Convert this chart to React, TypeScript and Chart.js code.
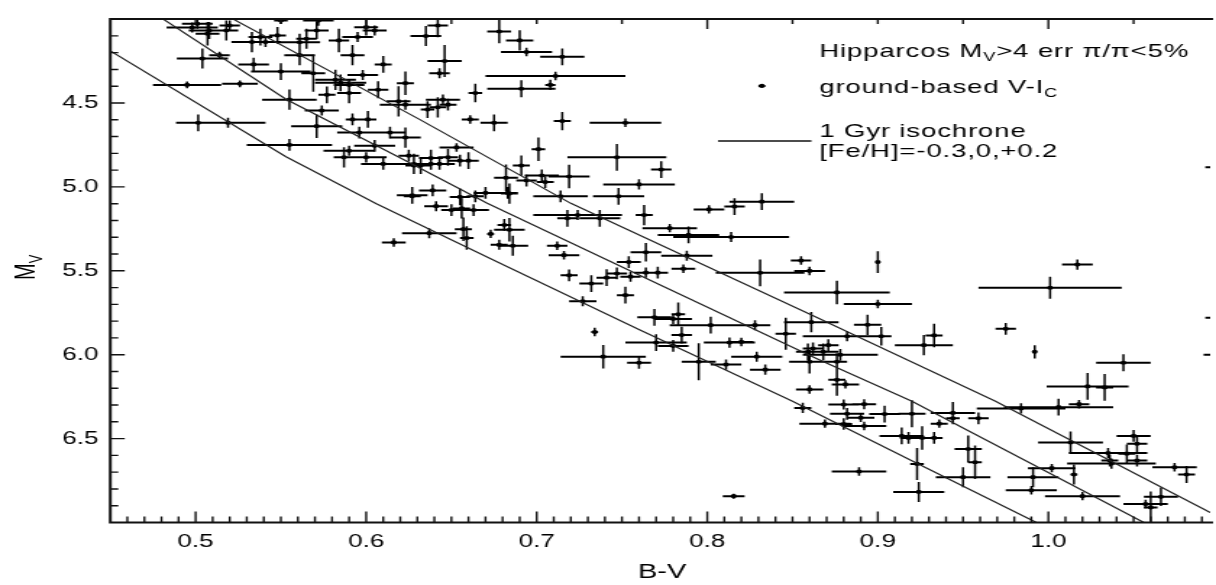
import React, { useEffect, useRef } from "react";
import { Chart, registerables } from "chart.js";

Chart.register(...registerables);

// The source figure is a raster that was stretched horizontally; we draw on a
// narrower canvas and let CSS stretch it to the same 1216 x 585 footprint.
const CANVAS_W = 840;
const CANVAS_H = 585;
const CSS_W = 1216;
const CSS_H = 585;

const X_MIN = 0.45;
const X_MAX = 1.0949;
const Y_MIN = 4.0;
const Y_MAX = 7.0;

const xTickValues = [0.5, 0.6, 0.7, 0.8, 0.9, 1.0];
const xTickLabels = ["0.5", "0.6", "0.7", "0.8", "0.9", "1.0"];
const yTickValues = [4.5, 5.0, 5.5, 6.0, 6.5];
const yTickLabels = ["4.5", "5.0", "5.5", "6.0", "6.5"];
const xAxisTitle = "B-V";
const xAxisTitleBV = 0.7735;

// Hipparcos stars: B-V colour, absolute magnitude and their errors
const starBV = [
  0.495, 0.526, 0.5015, 0.519, 0.555, 0.555, 0.504, 0.514, 0.534, 0.55,
  0.569, 0.571, 0.574, 0.577, 0.582, 0.585, 0.59, 0.59, 0.592, 0.584,
  0.595, 0.6, 0.605, 0.61, 0.598, 0.607, 0.592, 0.601, 0.596, 0.614,
  0.623, 0.605, 0.59, 0.587, 0.6, 0.61, 0.628, 0.623, 0.619, 0.627,
  0.533, 0.538, 0.541, 0.561, 0.565, 0.548, 0.561, 0.571, 0.572, 0.507,
  0.501, 0.508, 0.518, 0.498, 0.52, 0.642, 0.635, 0.678, 0.69, 0.694,
  0.715, 0.646, 0.643, 0.711, 0.691, 0.708, 0.664, 0.623, 0.645, 0.636,
  0.642, 0.648, 0.661, 0.675, 0.715, 0.752, 0.701, 0.653, 0.747, 0.773,
  0.76, 0.625, 0.628, 0.632, 0.638, 0.638, 0.643, 0.648, 0.655, 0.66,
  0.691, 0.682, 0.684, 0.694, 0.703, 0.705, 0.719, 0.714, 0.748, 0.627,
  0.639, 0.655, 0.67, 0.664, 0.683, 0.832, 0.832, 0.641, 0.65, 0.656,
  0.663, 0.657, 0.659, 0.637, 0.673, 0.681, 0.684, 0.686, 0.678, 0.712,
  0.716, 0.724, 0.718, 0.737, 0.763, 0.801, 0.778, 0.789, 0.814, 0.816,
  0.764, 0.788, 0.786, 0.831, 0.855, 0.86, 0.754, 0.719, 0.732, 0.741,
  0.747, 0.755, 0.764, 0.771, 0.752, 0.727, 0.734, 0.739, 0.76, 0.769,
  0.78, 0.783, 0.785, 0.77, 0.78, 0.795, 0.802, 0.813, 0.82, 0.811,
  0.829, 0.834, 0.846, 0.859, 0.828, 0.861, 0.876, 0.9, 0.9, 0.894,
  0.882, 0.902, 0.927, 0.933, 0.862, 0.868, 0.871, 0.878, 0.86, 0.876,
  0.876, 0.881, 0.86, 0.975, 0.992, 1.044, 1.023, 1.033, 1.017, 1.001,
  0.856, 0.88, 0.892, 0.882, 0.89, 0.904, 0.892, 0.869, 0.88, 0.92,
  0.944, 0.944, 0.936, 0.959, 0.984, 1.006, 1.018, 0.914, 0.918, 0.926,
  0.933, 0.953, 0.957, 0.923, 0.889, 0.95, 0.924, 1.013, 1.035, 1.036,
  1.046, 1.05, 1.052, 1.052, 1.037, 1.074, 1.081, 1.002, 1.015, 0.991,
  0.99, 1.02, 1.066, 1.057, 1.06, 0.8155, 0.6162, 1.1, 1.1, 1.101,
  0.55,
];
const starMV = [
  4.392, 4.386, 4.618, 4.618, 4.75, 4.48, 4.235, 4.215, 4.27, 4.313,
  4.323, 4.638, 4.545, 4.451, 4.362, 4.38, 4.392, 4.441, 4.215, 4.127,
  4.107, 4.048, 4.068, 4.27, 4.333, 4.421, 4.598, 4.598, 4.676, 4.676,
  4.706, 4.755, 4.785, 4.824, 4.824, 4.863, 4.863, 4.382, 4.49, 5.05,
  4.137, 4.107, 4.137, 4.215, 4.117, 4.097, 4.138, 4.068, 4.009, 4.087,
  4.028, 4.068, 4.068, 4.05, 4.038, 4.038, 4.101, 4.074, 4.127, 4.196,
  4.225, 4.25, 4.323, 4.339, 4.415, 4.392, 4.441, 4.51, 4.48, 4.539,
  4.526, 4.51, 4.598, 4.618, 4.608, 4.618, 4.775, 4.765, 4.824, 4.897,
  4.985, 4.814, 4.873, 4.873, 4.863, 4.828, 4.863, 4.824, 4.844, 4.844,
  4.873, 4.946, 5.04, 4.962, 4.932, 4.971, 4.938, 5.056, 5.056, 5.056,
  5.021, 5.06, 5.036, 5.056, 5.036, 4.398, 5.088, 5.115, 5.138, 5.128,
  5.138, 5.252, 5.305, 5.276, 5.28, 5.227, 5.256, 5.351, 5.345, 5.351,
  5.407, 5.168, 5.187, 5.187, 5.168, 5.134, 5.246, 5.286, 5.299, 5.117,
  5.39, 5.41, 5.488, 5.512, 5.439, 5.501, 5.448, 5.527, 5.576, 5.541,
  5.516, 5.535, 5.511, 5.511, 5.645, 5.682, 5.865, 6.012, 6.048, 5.777,
  5.787, 5.759, 5.883, 5.928, 5.948, 6.042, 5.824, 5.928, 5.924, 6.059,
  6.012, 6.089, 5.875, 5.983, 5.824, 5.806, 5.629, 5.698, 5.448, 5.822,
  5.89, 5.89, 5.943, 5.885, 5.963, 5.983, 5.943, 6.001, 6.042, 6.042,
  6.15, 6.177, 6.207, 5.846, 5.983, 6.048, 6.189, 6.195, 5.463, 5.601,
  6.317, 6.297, 6.295, 6.352, 6.376, 6.354, 6.425, 6.411, 6.413, 6.352,
  6.347, 6.379, 6.411, 6.379, 6.32, 6.313, 6.295, 6.484, 6.496, 6.496,
  6.496, 6.562, 6.641, 6.651, 6.696, 6.73, 6.818, 6.523, 6.586, 6.631,
  6.59, 6.484, 6.531, 6.631, 6.649, 6.671, 6.714, 6.676, 6.714, 6.73,
  6.808, 6.843, 6.847, 6.89, 6.91, 6.843, 5.331, 4.883, 5.78, 6.0,
  4.009,
];
const starBVErr = [
  0.02, 0.0105, 0.013, 0.022, 0.025, 0.016, 0.015, 0.006, 0.009, 0.0175,
  0.007, 0.015, 0.01, 0.005, 0.012, 0.015, 0.009, 0.007, 0.007, 0.006,
  0.009, 0.007, 0.007, 0.005, 0.009, 0.006, 0.004, 0.005, 0.013, 0.009,
  0.009, 0.012, 0.015, 0.006, 0.012, 0.013, 0.007, 0.005, 0.007, 0.009,
  0.012, 0.007, 0.009, 0.009, 0.006, 0.005, 0.012, 0.007, 0.009, 0.007,
  0.009, 0.012, 0.007, 0.015, 0.006, 0.006, 0.009, 0.007, 0.008, 0.015,
  0.013, 0.01, 0.006, 0.041, 0.02, 0.003, 0.004, 0.015, 0.01, 0.004,
  0.005, 0.005, 0.005, 0.008, 0.005, 0.021, 0.004, 0.01, 0.029, 0.006,
  0.021, 0.006, 0.005, 0.006, 0.006, 0.007, 0.009, 0.006, 0.007, 0.006,
  0.005, 0.007, 0.005, 0.006, 0.01, 0.005, 0.012, 0.016, 0.015, 0.005,
  0.008, 0.006, 0.007, 0.005, 0.006, 0.002, 0.019, 0.007, 0.006, 0.005,
  0.009, 0.005, 0.004, 0.016, 0.002, 0.004, 0.009, 0.009, 0.005, 0.006,
  0.009, 0.026, 0.006, 0.012, 0.005, 0.009, 0.016, 0.018, 0.034, 0.006,
  0.009, 0.015, 0.007, 0.026, 0.006, 0.009, 0.007, 0.005, 0.007, 0.006,
  0.006, 0.006, 0.007, 0.006, 0.005, 0.008, 0.002, 0.025, 0.007, 0.01,
  0.011, 0.004, 0.006, 0.018, 0.009, 0.01, 0.024, 0.015, 0.007, 0.009,
  0.015, 0.009, 0.006, 0.007, 0.009, 0.016, 0.031, 0.02, 0.001, 0.008,
  0.026, 0.005, 0.017, 0.005, 0.006, 0.009, 0.006, 0.022, 0.012, 0.006,
  0.005, 0.008, 0.008, 0.006, 0.001, 0.016, 0.024, 0.005, 0.009, 0.042,
  0.005, 0.009, 0.007, 0.01, 0.008, 0.009, 0.013, 0.015, 0.005, 0.008,
  0.013, 0.004, 0.005, 0.006, 0.026, 0.032, 0.006, 0.013, 0.005, 0.005,
  0.005, 0.008, 0.004, 0.004, 0.016, 0.016, 0.015, 0.019, 0.023, 0.005,
  0.005, 0.01, 0.006, 0.006, 0.026, 0.013, 0.005, 0.014, 0.002, 0.015,
  0.015, 0.022, 0.01, 0.013, 0.004, 0.0064, 0.007, 0.008, 0.008, 0.01,
  0.004,
];
const starMVErr = [
  0.02, 0.02, 0.05, 0.03, 0.035, 0.06, 0.06, 0.02, 0.04, 0.05,
  0.11, 0.07, 0.03, 0.05, 0.06, 0.05, 0.035, 0.06, 0.06, 0.07,
  0.03, 0.05, 0.03, 0.05, 0.03, 0.05, 0.035, 0.05, 0.035, 0.035,
  0.06, 0.035, 0.03, 0.06, 0.03, 0.035, 0.06, 0.07, 0.09, 0.05,
  0.06, 0.05, 0.03, 0.06, 0.06, 0.05, 0.05, 0.05, 0.03, 0.07,
  0.03, 0.05, 0.06, 0.03, 0.03, 0.07, 0.06, 0.07, 0.06, 0.025,
  0.05, 0.095, 0.03, 0.025, 0.05, 0.03, 0.055, 0.03, 0.03, 0.05,
  0.06, 0.035, 0.025, 0.05, 0.055, 0.025, 0.07, 0.025, 0.08, 0.05,
  0.03, 0.035, 0.05, 0.05, 0.035, 0.05, 0.035, 0.05, 0.035, 0.05,
  0.06, 0.08, 0.06, 0.035, 0.035, 0.035, 0.07, 0.035, 0.05, 0.035,
  0.035, 0.05, 0.035, 0.035, 0.035, 0.01, 0.05, 0.03, 0.035, 0.06,
  0.035, 0.07, 0.07, 0.03, 0.025, 0.035, 0.07, 0.06, 0.03, 0.025,
  0.025, 0.03, 0.05, 0.05, 0.06, 0.025, 0.025, 0.05, 0.03, 0.05,
  0.055, 0.03, 0.025, 0.08, 0.025, 0.025, 0.035, 0.035, 0.05, 0.05,
  0.035, 0.03, 0.03, 0.035, 0.05, 0.03, 0.025, 0.07, 0.035, 0.05,
  0.03, 0.07, 0.05, 0.05, 0.035, 0.11, 0.05, 0.03, 0.025, 0.03,
  0.03, 0.03, 0.095, 0.05, 0.03, 0.06, 0.07, 0.025, 0.065, 0.06,
  0.03, 0.055, 0.06, 0.07, 0.035, 0.05, 0.035, 0.035, 0.07, 0.05,
  0.095, 0.025, 0.025, 0.035, 0.04, 0.05, 0.08, 0.08, 0.03, 0.065,
  0.03, 0.03, 0.03, 0.035, 0.025, 0.05, 0.025, 0.025, 0.035, 0.08,
  0.065, 0.035, 0.025, 0.035, 0.03, 0.05, 0.025, 0.05, 0.035, 0.07,
  0.035, 0.08, 0.1, 0.095, 0.025, 0.06, 0.06, 0.065, 0.03, 0.035,
  0.055, 0.035, 0.05, 0.035, 0.03, 0.025, 0.05, 0.025, 0.06, 0.06,
  0.025, 0.025, 0.055, 0.025, 0.095, 0.015, 0.025, 0.005, 0.005, 0.005,
  0.02,
];

// 1 Gyr isochrones, [Fe/H] = -0.3, 0, +0.2
const isoPoorBV = [0.45, 0.553, 0.606, 0.677, 0.759, 0.85, 0.922, 0.993];
const isoPoorMV = [4.19, 4.82, 5.1, 5.447, 5.845, 6.278, 6.642, 7.0];
const isoSolarBV = [0.481, 0.553, 0.619, 0.671, 0.76, 0.864, 0.92, 1.056];
const isoSolarMV = [4.0, 4.478, 4.822, 5.098, 5.525, 6.022, 6.278, 7.0];
const isoRichBV = [0.522, 0.631, 0.72, 0.864, 0.969, 1.0949];
const isoRichMV = [4.0, 4.596, 5.098, 5.777, 6.278, 6.94];

const annotationLines = [
  "Hipparcos M", "V", ">4 err \u03c0/\u03c0<5%",
  "ground-based V-I", "C",
  "1 Gyr isochrone",
  "[Fe/H]=-0.3,0,+0.2",
];
// where the annotation block and the legend sample line sit, in data units
const annotationBV = 0.8657;
const legendLineBV = [0.8063, 0.8611];

const FONT = '"Liberation Sans", Arial, Helvetica, sans-serif';

const pairs = (xs: number[], ys: number[]) => xs.map((x, i) => ({ x, y: ys[i] }));

const decorPlugin = {
  id: "decor",
  beforeDatasetsDraw(chart: any) {
    const { ctx, chartArea: a, scales } = chart;
    const xs = scales.x;
    const ys = scales.y;
    ctx.save();
    ctx.beginPath();
    ctx.rect(a.left, a.top, a.right - a.left, a.bottom - a.top);
    ctx.clip();
    ctx.strokeStyle = "#000";
    // horizontal error bars
    ctx.lineWidth = 2;
    ctx.beginPath();
    for (let i = 0; i < starBV.length; i++) {
      const py = ys.getPixelForValue(starMV[i]);
      ctx.moveTo(xs.getPixelForValue(starBV[i] - starBVErr[i]), py);
      ctx.lineTo(xs.getPixelForValue(starBV[i] + starBVErr[i]), py);
    }
    ctx.stroke();
    // vertical error bars
    ctx.lineWidth = 1.5;
    ctx.beginPath();
    for (let i = 0; i < starBV.length; i++) {
      const px = xs.getPixelForValue(starBV[i]);
      ctx.moveTo(px, ys.getPixelForValue(starMV[i] - starMVErr[i]));
      ctx.lineTo(px, ys.getPixelForValue(starMV[i] + starMVErr[i]));
    }
    ctx.stroke();
    ctx.restore();
  },
  afterDraw(chart: any) {
    const { ctx, chartArea: a, scales } = chart;
    const xs = scales.x;
    const ys = scales.y;
    ctx.save();
    ctx.strokeStyle = "#111";
    // frame: left, bottom, top (right edge of the plot lies outside the figure)
    ctx.lineWidth = 2;
    ctx.beginPath();
    ctx.moveTo(a.right + 2, a.top);
    ctx.lineTo(a.left, a.top);
    ctx.lineTo(a.left, a.bottom);
    ctx.lineTo(a.right + 2, a.bottom);
    ctx.stroke();

    ctx.lineWidth = 1.4;
    ctx.beginPath();
    // bottom ticks every 0.01, long every 0.1
    for (let k = 46; k <= 109; k++) {
      const px = xs.getPixelForValue(k / 100);
      const len = k % 10 === 0 ? 11 : 6;
      ctx.moveTo(px, a.bottom);
      ctx.lineTo(px, a.bottom - len);
    }
    // top ticks every 0.05, long every 0.2
    for (let k = 10; k <= 21; k++) {
      const px = xs.getPixelForValue(k * 0.05);
      const len = k % 4 === 0 ? 10 : 5;
      ctx.moveTo(px, a.top);
      ctx.lineTo(px, a.top + len);
    }
    // left ticks every 0.1, long every 0.5
    for (let k = 41; k <= 69; k++) {
      const py = ys.getPixelForValue(k / 10);
      const len = k % 5 === 0 ? 10 : 5.5;
      ctx.moveTo(a.left, py);
      ctx.lineTo(a.left + len, py);
    }
    ctx.stroke();

    // legend sample line for the isochrones
    ctx.lineWidth = 1.3;
    ctx.beginPath();
    ctx.moveTo(xs.getPixelForValue(legendLineBV[0]), 141);
    ctx.lineTo(xs.getPixelForValue(legendLineBV[1]), 141);
    ctx.stroke();

    // annotation text
    ctx.fillStyle = "#000";
    ctx.textBaseline = "alphabetic";
    ctx.textAlign = "left";
    const big = `19px ${FONT}`;
    const small = `12.5px ${FONT}`;
    const x0 = xs.getPixelForValue(annotationBV);
    (ctx as any).letterSpacing = "0.6px";
    const drawRun = (parts: [string, boolean][], x: number, y: number) => {
      let cx = x;
      for (const [t, sub] of parts) {
        ctx.font = sub ? small : big;
        ctx.fillText(t, cx, sub ? y + 4 : y);
        cx += ctx.measureText(t).width;
      }
    };
    drawRun([[annotationLines[0], false], [annotationLines[1], true], [annotationLines[2], false]], x0, 57);
    drawRun([[annotationLines[3], false], [annotationLines[4], true]], x0, 93);
    drawRun([[annotationLines[5], false]], x0, 137);
    drawRun([[annotationLines[6], false]], x0, 157);
    (ctx as any).letterSpacing = "0px";

    // x-axis title
    ctx.font = `20px ${FONT}`;
    ctx.textAlign = "center";
    ctx.fillText(xAxisTitle, xs.getPixelForValue(xAxisTitleBV), 578);

    // y-axis title M_V (rotated)
    ctx.textAlign = "left";
    ctx.save();
    ctx.translate(24, 280);
    ctx.rotate(-Math.PI / 2);
    ctx.font = `20px ${FONT}`;
    ctx.fillText("M", 0, 0);
    const mw = ctx.measureText("M").width;
    ctx.font = `13px ${FONT}`;
    ctx.fillText("V", mw, 5);
    ctx.restore();

    ctx.restore();
  },
};

export default function App() {
  const ref = useRef<HTMLCanvasElement | null>(null);

  useEffect(() => {
    const canvas = ref.current;
    if (!canvas) return;
    const lineDs = (label: string, bv: number[], mv: number[]) => ({
      label,
      data: pairs(bv, mv),
      showLine: true,
      borderColor: "#222",
      borderWidth: 1.2,
      pointRadius: 0,
      tension: 0,
      fill: false,
    });
    const chart = new Chart(canvas, {
      type: "scatter",
      data: {
        datasets: [
          lineDs("[Fe/H]=-0.3", isoPoorBV, isoPoorMV),
          lineDs("[Fe/H]=0", isoSolarBV, isoSolarMV),
          lineDs("[Fe/H]=+0.2", isoRichBV, isoRichMV),
          {
            label: "Hipparcos stars",
            data: pairs(starBV, starMV),
            showLine: false,
            pointRadius: 2.1,
            pointBackgroundColor: "#000",
            pointBorderColor: "#000",
            pointBorderWidth: 0,
          },
        ],
      },
      options: {
        responsive: false,
        animation: false,
        events: [],
        layout: { padding: { top: 13.5, right: 0, bottom: 0, left: 0 } },
        plugins: {
          legend: { display: false },
          tooltip: { enabled: false },
          title: { display: false },
        },
        scales: {
          x: {
            type: "linear",
            min: X_MIN,
            max: X_MAX,
            grid: { display: false, drawTicks: false },
            border: { display: false },
            afterBuildTicks: (s: any) => {
              s.ticks = xTickValues.map((v) => ({ value: v }));
            },
            afterFit: (s: any) => {
              s.height = 62.5;
            },
            ticks: {
              autoSkip: false,
              maxRotation: 0,
              padding: 9,
              color: "#000",
              font: { family: FONT, size: 18 },
              callback: (_v: any, i: number) => xTickLabels[i],
            },
            title: { display: false, text: xAxisTitle },
          },
          y: {
            type: "linear",
            reverse: true,
            min: Y_MIN,
            max: Y_MAX,
            grid: { display: false, drawTicks: false },
            border: { display: false },
            afterBuildTicks: (s: any) => {
              s.ticks = yTickValues.map((v) => ({ value: v }));
            },
            afterFit: (s: any) => {
              s.width = 76.2;
            },
            ticks: {
              autoSkip: false,
              padding: 8.3,
              color: "#000",
              font: { family: FONT, size: 18 },
              callback: (_v: any, i: number) => yTickLabels[i],
            },
          },
        },
      },
      plugins: [decorPlugin],
    } as any);
    return () => chart.destroy();
  }, []);

  return (
    <div
      style={{
        position: "fixed",
        left: 0,
        top: 0,
        width: CSS_W,
        height: CSS_H,
        overflow: "hidden",
        background: "#fff",
      }}
    >
      <canvas
        ref={ref}
        width={CANVAS_W}
        height={CANVAS_H}
        style={{ width: `${CSS_W}px`, height: `${CSS_H}px`, display: "block" }}
      />
    </div>
  );
}
